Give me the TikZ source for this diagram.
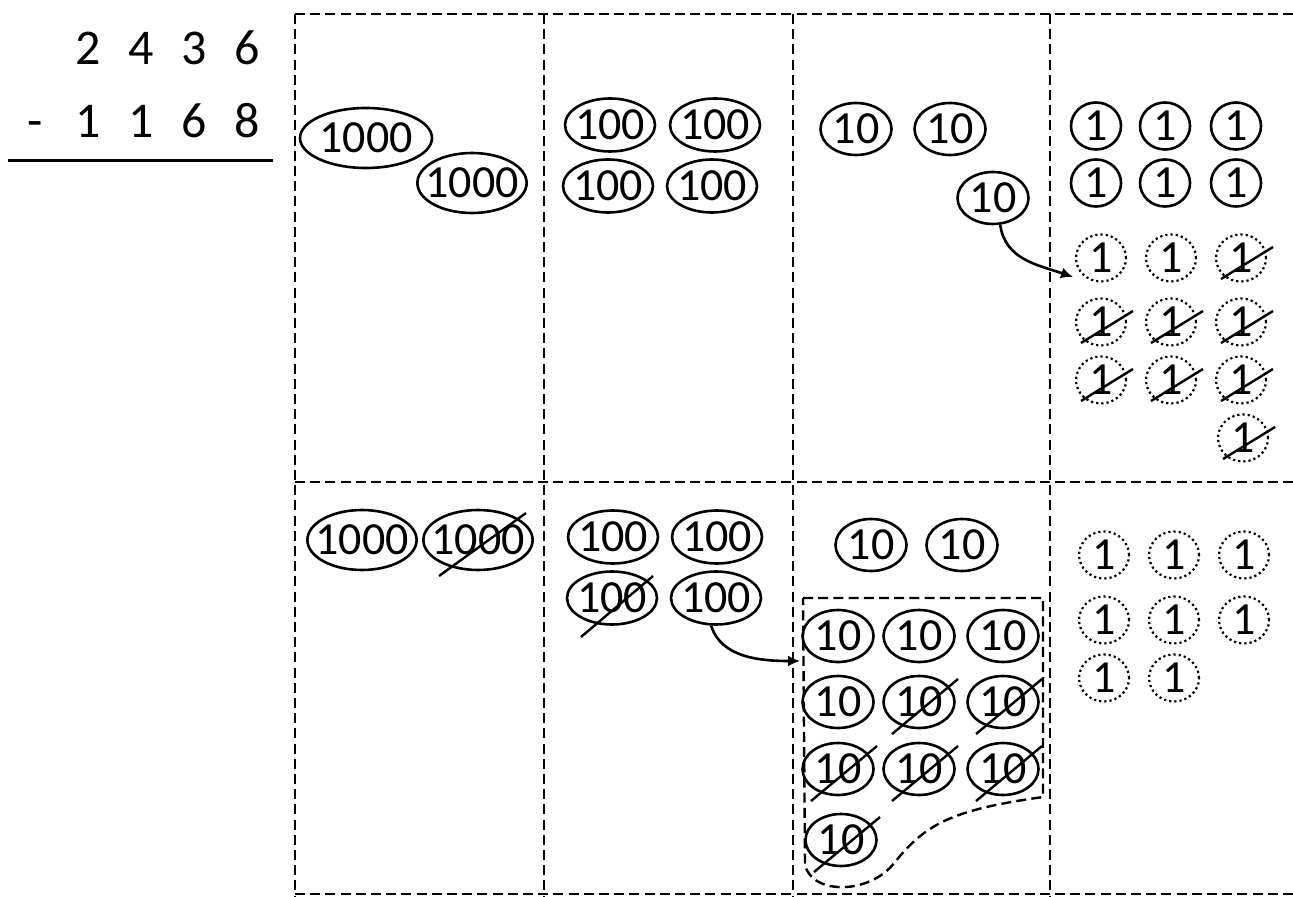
\documentclass[tikz,border=0pt]{standalone}
\usepackage{fontspec}
\setmainfont{Carlito}
\usetikzlibrary{arrows.meta,shapes.geometric}

\begin{document}
\begin{tikzpicture}[x=0.5pt,y=-0.5pt,>={Latex[length=6pt,width=5.5pt]},
  grid/.style={line width=1.4pt,dash pattern=on 5pt off 2.6pt},
  chip/.style={ellipse,draw,line width=1.3pt,inner ysep=0pt,inner xsep=-4pt,font=\fontsize{23}{27}\selectfont},
  thou/.style={chip,minimum width=54pt,minimum height=30pt},
  hund/.style={chip,minimum width=45pt,minimum height=26.5pt},
  ten/.style={chip,minimum width=35.5pt,minimum height=26pt},
  one/.style={chip,font=\fontsize{23}{27}\selectfont,minimum width=25pt,minimum height=23.5pt},
  spare/.style={one,line width=1.1pt,dash pattern=on 1.1pt off 1.5pt},
  cross/.style={line width=1.2pt},
  digit/.style={font=\fontsize{25}{30}\selectfont,inner sep=0pt,anchor=base}]
\useasboundingbox (0,0) rectangle (1293,897);

\foreach \d [count=\i] in {2,4,3,6}
  \node[digit] (top\i) at (35+53*\i,65) {\d};
\foreach \d [count=\i from 0] in {-,1,1,6,8}
  \node[digit] (low\i) at (35+53*\i,138) {\d};
\draw[line width=1.5pt] (8,161) -- (273,161);

\draw[grid] (295,14) -- (1293,14);
\draw[grid] (295,482) -- (1293,482);
\draw[grid] (295,894) -- (1293,894);
\foreach \x in {295,544,793,1050}
  \draw[grid] (\x,14) -- (\x,897);

% before regrouping
\node[thou,minimum width=66pt] (k1) at (366,138) {1000};
\node[thou] (k2) at (472,183) {1000};
\foreach \n/\x/\y in {1/610/125,2/715/125,3/608/186,4/712/186}
  \node[hund] (h\n) at (\x,\y) {100};
\node[ten] (t1) at (856,129) {10};
\node[ten] (t2) at (950,129) {10};
\node[ten] (t3) at (993,198) {10};
\foreach \r/\y in {1/126,2/183}
  \foreach \c/\x in {1/1096,2/1165,3/1236}
    \node[one] (o\r\c) at (\x,\y) {1};
\foreach \r/\y in {1/258,2/322,3/380}
  \foreach \c/\x in {1/1101,2/1171,3/1241}
    \node[spare] (d\r\c) at (\x,\y) {1};
\node[spare] (d43) at (1243,438) {1};
\foreach \n in {d13,d21,d22,d23,d31,d32,d33,d43}
  \draw[cross] ([shift={(-20,21)}]\n.center) -- ([shift={(32,-11)}]\n.center);
\coordinate (drop1) at (1073,277);
\draw[->,line width=1.3pt] (t3.-75) .. controls +(5,35) and +(-35,-12) .. (drop1);

% after regrouping
\node[thou] (bk1) at (362,540) {1000};
\node[thou] (bk2) at (478,540) {1000};
\draw[cross] ([shift={(-39,36)}]bk2.center) -- ([shift={(48,-27)}]bk2.center);
\foreach \n/\x/\y in {1/613/537,2/717/537,3/612/598,4/716/598}
  \node[hund] (bh\n) at (\x,\y) {100};
\draw[cross] ([shift={(-31,39)}]bh3.center) -- ([shift={(41,-22)}]bh3.center);
\node[ten] (bt1) at (871,545) {10};
\node[ten] (bt2) at (962,545) {10};
\draw[grid,line width=1.2pt] (803,598) -- (1043,598) -- (1043,797)
  .. controls (950,810) and (925,825) .. (895,862)
  .. controls (870,895) and (812,895) .. (805,865) -- cycle;
\foreach \r/\y in {1/636,2/702,3/769}
  \foreach \c/\x in {1/838,2/919,3/1003}
    \node[ten] (g\r\c) at (\x,\y) {10};
\node[ten] (g41) at (841,840) {10};
\foreach \n in {g22,g23,g31,g32,g33,g41}
  \draw[cross] ([shift={(-27,32)}]\n.center) -- ([shift={(39,-23)}]\n.center);
\coordinate (drop2) at (800,661);
\draw[->,line width=1.3pt] (bh4.-100) .. controls +(10,32) and +(-40,0) .. (drop2);
\foreach \r/\y in {1/555,2/620}
  \foreach \c/\x in {1/1104,2/1174,3/1244}
    \node[spare] (e\r\c) at (\x,\y) {1};
\node[spare] (e31) at (1104,678) {1};
\node[spare] (e32) at (1174,678) {1};
\end{tikzpicture}
\end{document}
